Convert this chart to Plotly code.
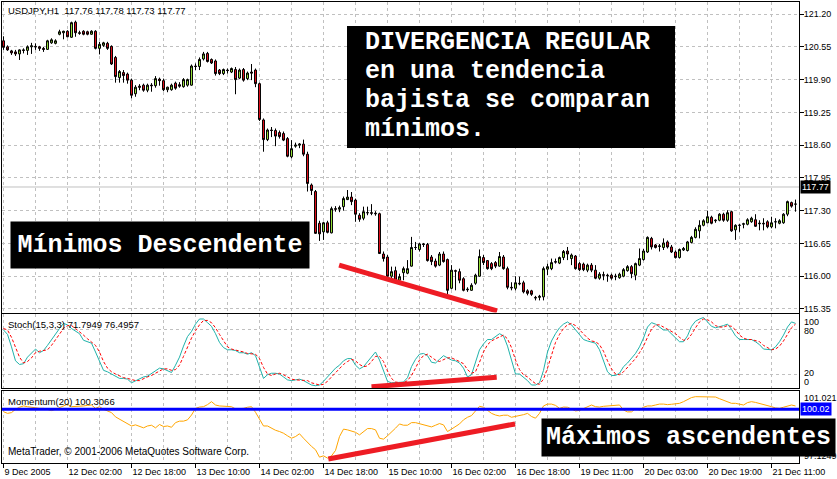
import plotly.graph_objects as go
from plotly.subplots import make_subplots

# USDJPY H1 candles (bar index 0 = 9 Dec 2005 10:00)
opens = [
    120.67, 120.55, 120.47, 120.45, 120.41, 120.49, 120.48, 120.55, 120.56, 120.55,
    120.52, 120.50, 120.63, 120.62, 120.80, 120.83, 120.86, 120.74, 121.04, 120.83,
    120.86, 120.85, 120.80, 120.86, 120.52, 120.58, 120.62, 120.56, 120.34, 119.94,
    120.04, 120.01, 119.89, 119.62, 119.77, 119.79, 119.69, 119.79, 119.78, 119.91,
    119.88, 119.70, 119.70, 119.83, 119.80, 119.76, 119.79, 119.79, 120.17, 120.16,
    120.31, 120.42, 120.30, 120.27, 120.09, 120.02, 120.09, 120.05, 120.10, 119.93,
    120.10, 119.92, 120.05, 120.09, 119.82, 119.10, 118.71, 118.90, 118.89, 118.85,
    118.83, 118.73, 118.37, 118.58, 118.60, 118.62, 118.42, 117.81, 117.68, 117.05,
    116.88, 117.06, 116.86, 117.34, 117.33, 117.38, 117.52, 117.57, 117.51, 117.21,
    117.15, 117.26, 117.26, 117.25, 117.24, 116.44, 116.38, 116.00, 116.11, 115.92,
    116.07, 116.06, 116.20, 116.57, 116.53, 116.64, 116.63, 116.38, 116.30, 116.22,
    116.44, 116.33, 115.76, 116.11, 116.09, 115.95, 115.73, 115.72, 115.86, 116.00,
    116.37, 116.31, 116.25, 116.27, 116.20, 116.38, 116.15, 115.78, 115.76, 115.86,
    115.87, 115.71, 115.71, 115.58, 115.58, 115.59, 116.14, 116.15, 116.29, 116.26,
    116.37, 116.50, 116.35, 116.40, 116.25, 116.24, 116.12, 116.22, 116.12, 115.96,
    116.03, 116.02, 116.02, 115.99, 115.97, 116.00, 116.11, 116.19, 116.02, 116.22,
    116.33, 116.48, 116.75, 116.62, 116.59, 116.57, 116.68, 116.58, 116.48, 116.37,
    116.52, 116.51, 116.67, 116.77, 116.90, 117.01, 117.06, 117.17, 117.10, 117.11,
    117.23, 117.11, 117.28, 116.92, 117.01, 117.03, 117.03, 117.08, 117.12, 117.04,
    117.05, 117.08, 116.98, 117.08, 117.05, 117.06, 117.23, 117.46, 117.43,
]
highs = [
    120.76, 120.58, 120.49, 120.49, 120.50, 120.52, 120.58, 120.63, 120.62, 120.57,
    120.55, 120.69, 120.72, 120.70, 120.89, 120.87, 120.88, 121.05, 121.07, 120.87,
    120.88, 120.87, 120.88, 120.88, 120.65, 120.65, 120.65, 120.58, 120.37, 120.09,
    120.09, 120.04, 119.92, 119.79, 119.81, 119.82, 119.82, 119.83, 119.97, 119.94,
    119.92, 119.76, 119.82, 119.86, 119.85, 119.93, 119.92, 120.20, 120.22, 120.34,
    120.45, 120.45, 120.32, 120.30, 120.11, 120.12, 120.12, 120.14, 120.15, 120.12,
    120.13, 120.06, 120.21, 120.12, 119.84, 119.13, 118.93, 118.96, 118.93, 118.89,
    118.87, 118.76, 118.70, 118.65, 118.64, 118.71, 118.47, 117.84, 117.71, 117.10,
    117.08, 117.10, 117.38, 117.39, 117.40, 117.58, 117.71, 117.67, 117.54, 117.25,
    117.38, 117.38, 117.43, 117.29, 117.26, 116.49, 116.42, 116.19, 116.19, 116.05,
    116.19, 116.32, 116.78, 116.68, 116.66, 116.66, 116.66, 116.42, 116.35, 116.48,
    116.49, 116.35, 116.22, 116.13, 116.15, 115.98, 115.78, 115.86, 116.05, 116.53,
    116.42, 116.32, 116.28, 116.30, 116.48, 116.42, 116.19, 115.88, 116.00, 115.99,
    115.91, 115.74, 115.73, 115.61, 115.63, 116.19, 116.25, 116.35, 116.35, 116.39,
    116.52, 116.58, 116.45, 116.42, 116.28, 116.27, 116.25, 116.26, 116.22, 116.08,
    116.09, 116.05, 116.05, 116.05, 116.07, 116.16, 116.22, 116.22, 116.27, 116.55,
    116.54, 116.79, 116.78, 116.64, 116.64, 116.75, 116.71, 116.62, 116.51, 116.55,
    116.58, 116.70, 116.80, 116.97, 117.11, 117.13, 117.30, 117.20, 117.13, 117.25,
    117.26, 117.31, 117.30, 117.03, 117.04, 117.06, 117.15, 117.18, 117.23, 117.11,
    117.15, 117.11, 117.18, 117.15, 117.13, 117.25, 117.50, 117.48, 117.52,
]
lows = [
    120.49, 120.47, 120.39, 120.37, 120.29, 120.42, 120.39, 120.41, 120.49, 120.47,
    120.45, 120.49, 120.61, 120.60, 120.78, 120.70, 120.74, 120.73, 120.75, 120.79,
    120.78, 120.78, 120.79, 120.50, 120.40, 120.55, 120.49, 120.19, 119.84, 119.84,
    119.84, 119.82, 119.53, 119.56, 119.69, 119.66, 119.65, 119.66, 119.74, 119.78,
    119.67, 119.65, 119.68, 119.70, 119.74, 119.74, 119.76, 119.78, 120.09, 120.09,
    120.28, 120.24, 120.21, 119.98, 119.99, 119.99, 120.02, 120.03, 119.61, 119.91,
    119.86, 119.89, 119.89, 119.75, 119.08, 118.47, 118.68, 118.76, 118.58, 118.73,
    118.68, 118.36, 118.34, 118.55, 118.54, 118.38, 117.68, 117.61, 116.84, 116.70,
    116.72, 116.85, 116.85, 117.28, 117.27, 117.30, 117.51, 117.41, 117.08, 117.08,
    117.11, 117.21, 117.21, 117.20, 116.44, 116.29, 115.92, 115.96, 115.91, 115.89,
    115.92, 116.04, 116.19, 116.52, 116.49, 116.58, 116.29, 116.22, 116.17, 116.20,
    116.27, 115.63, 115.74, 115.72, 115.86, 115.70, 115.69, 115.71, 115.83, 115.99,
    116.22, 116.13, 116.12, 116.16, 116.19, 116.13, 115.74, 115.72, 115.72, 115.82,
    115.66, 115.62, 115.61, 115.52, 115.52, 115.52, 116.02, 116.12, 116.25, 116.24,
    116.32, 116.32, 116.22, 116.13, 116.10, 116.10, 116.08, 116.08, 115.94, 115.93,
    115.92, 115.89, 115.93, 115.92, 115.95, 115.98, 116.09, 115.96, 115.92, 116.20,
    116.31, 116.46, 116.53, 116.55, 116.49, 116.52, 116.55, 116.46, 116.35, 116.35,
    116.50, 116.49, 116.65, 116.75, 116.75, 116.99, 117.05, 117.03, 117.06, 117.09,
    117.08, 117.08, 116.88, 116.72, 116.88, 116.95, 117.01, 117.06, 116.98, 116.91,
    116.91, 116.95, 116.95, 116.95, 117.03, 117.04, 117.19, 117.36, 117.28,
]
closes = [
    120.54, 120.49, 120.43, 120.41, 120.49, 120.48, 120.55, 120.57, 120.55, 120.52,
    120.50, 120.67, 120.69, 120.67, 120.85, 120.86, 120.75, 121.03, 120.83, 120.82,
    120.80, 120.80, 120.86, 120.52, 120.60, 120.63, 120.52, 120.21, 119.96, 120.06,
    119.98, 119.89, 119.59, 119.75, 119.75, 119.69, 119.79, 119.78, 119.92, 119.88,
    119.70, 119.75, 119.79, 119.73, 119.77, 119.90, 119.90, 120.17, 120.16, 120.30,
    120.41, 120.26, 120.23, 120.02, 120.02, 120.10, 120.08, 120.12, 119.90, 120.09,
    119.89, 120.03, 120.03, 119.82, 119.11, 118.71, 118.90, 118.89, 118.78, 118.77,
    118.70, 118.38, 118.53, 118.60, 118.62, 118.42, 117.84, 117.70, 116.85, 116.84,
    117.06, 116.87, 117.34, 117.33, 117.36, 117.54, 117.57, 117.48, 117.23, 117.13,
    117.28, 117.26, 117.25, 117.24, 116.45, 116.35, 116.00, 116.09, 115.92, 115.99,
    116.15, 116.15, 116.57, 116.57, 116.64, 116.63, 116.31, 116.29, 116.20, 116.44,
    116.29, 115.72, 116.12, 116.10, 115.92, 115.72, 115.74, 115.82, 116.02, 116.39,
    116.27, 116.15, 116.15, 116.20, 116.39, 116.15, 115.78, 115.77, 115.87, 115.85,
    115.69, 115.66, 115.64, 115.57, 115.60, 116.15, 116.19, 116.27, 116.28, 116.37,
    116.49, 116.44, 116.42, 116.15, 116.13, 116.13, 116.22, 116.12, 115.96, 116.04,
    116.02, 116.01, 115.96, 116.00, 116.04, 116.13, 116.19, 116.05, 116.25, 116.35,
    116.50, 116.77, 116.58, 116.57, 116.60, 116.66, 116.58, 116.48, 116.37, 116.53,
    116.55, 116.68, 116.77, 116.93, 117.01, 117.10, 117.18, 117.05, 117.11, 117.23,
    117.11, 117.26, 116.90, 117.01, 117.01, 117.04, 117.12, 117.15, 116.99, 117.05,
    117.04, 116.98, 117.06, 117.08, 117.10, 117.23, 117.48, 117.39, 117.43,
]

# Stochastic(15,3,3): main (teal) and signal (red dashed)
stoch_main = [
    80, 74, 57, 38, 33, 34, 43, 49, 54, 49, 52, 59, 67, 74, 82, 89, 87, 82, 78, 75,
    66, 64, 62, 50, 37, 25, 23, 20, 16, 14, 14, 13, 8, 11, 14, 16, 17, 21, 25, 28,
    27, 25, 22, 32, 43, 58, 71, 78, 88, 95, 95, 90, 85, 75, 63, 56, 53, 53, 52, 49,
    49, 47, 49, 45, 28, 14, 19, 21, 21, 20, 16, 12, 11, 12, 13, 11, 8, 5, 4, 5,
    10, 16, 22, 28, 32, 38, 41, 41, 32, 27, 30, 37, 44, 50, 39, 23, 10, 8, 8, 8,
    9, 15, 30, 40, 47, 48, 45, 36, 35, 40, 45, 42, 39, 38, 35, 28, 16, 19, 35, 53,
    61, 67, 67, 71, 75, 72, 58, 39, 20, 20, 16, 11, 5, 5, 8, 25, 50, 65, 75, 83,
    88, 91, 87, 80, 74, 67, 65, 64, 62, 53, 39, 23, 18, 18, 21, 30, 35, 41, 48, 57,
    69, 84, 90, 88, 84, 80, 80, 75, 70, 64, 64, 72, 85, 92, 95, 97, 91, 85, 83, 84,
    86, 88, 81, 72, 67, 67, 67, 67, 64, 60, 54, 53, 53, 57, 64, 73, 84, 91, 89,
]
stoch_signal = [
    82, 80, 70, 56, 43, 35, 37, 42, 49, 51, 52, 53, 59, 67, 74, 82, 86, 86, 82, 78,
    73, 68, 64, 59, 50, 37, 28, 23, 20, 17, 15, 14, 12, 11, 11, 14, 16, 18, 21, 25,
    27, 27, 25, 26, 32, 44, 57, 69, 79, 87, 93, 93, 90, 83, 74, 65, 57, 54, 53, 51,
    50, 48, 48, 47, 41, 29, 20, 18, 20, 21, 19, 16, 13, 12, 12, 12, 11, 8, 6, 5,
    6, 10, 16, 22, 27, 33, 37, 40, 38, 33, 30, 31, 37, 44, 44, 37, 24, 14, 9, 8,
    8, 11, 18, 28, 39, 45, 47, 43, 39, 37, 40, 42, 42, 40, 37, 34, 26, 21, 23, 36,
    50, 60, 65, 68, 71, 73, 68, 56, 39, 26, 19, 16, 11, 7, 6, 13, 28, 47, 63, 74,
    82, 87, 89, 86, 80, 74, 69, 65, 64, 60, 51, 38, 27, 20, 19, 23, 29, 35, 41, 49,
    58, 70, 81, 87, 87, 84, 81, 78, 75, 70, 66, 67, 74, 83, 91, 95, 94, 91, 86, 84,
    84, 86, 85, 80, 73, 69, 67, 67, 66, 64, 59, 56, 53, 54, 58, 65, 74, 83, 88,
]

# Momentum(20)
momentum = [
    99.89, 99.80, 99.84, 100.02, 100.13, 100.20, 100.16, 100.13, 100.07, 100.07,
    100.07, 100.02, 99.95, 100.02, 100.11, 100.20, 100.29, 100.16, 100.16, 100.18,
    100.20, 100.23, 100.25, 100.07, 100.16, 100.02, 99.93, 99.84, 99.61, 99.48,
    99.39, 99.25, 99.12, 99.18, 99.12, 99.02, 99.12, 99.16, 99.02, 99.20,
    99.09, 99.12, 99.05, 99.30, 99.38, 99.38, 99.45, 99.71, 100.07, 100.14,
    100.16, 100.27, 100.43, 100.25, 100.20, 100.20, 100.20, 100.16, 100.04, 100.04,
    100.07, 100.13, 100.16, 99.86, 99.48, 99.12, 99.12, 99.00, 98.89, 98.82,
    98.73, 98.59, 98.46, 98.55, 98.70, 98.46, 98.23, 98.02, 97.84, 97.44,
    97.51, 97.39, 97.51, 97.80, 98.55, 98.95, 98.91, 98.86, 98.78, 98.64,
    98.82, 98.98, 98.98, 98.91, 98.46, 98.41, 98.59, 98.77, 99.00, 99.23,
    99.16, 99.16, 99.30, 99.30, 99.25, 99.20, 99.12, 99.07, 99.16, 99.25,
    99.18, 98.82, 98.95, 99.09, 99.23, 99.45, 99.59, 99.68, 99.93, 100.18,
    100.13, 99.95, 99.80, 99.71, 99.66, 99.70, 99.70, 99.59, 99.63, 99.68,
    99.73, 99.80, 99.63, 99.54, 99.80, 100.20, 100.30, 100.30, 100.23, 100.07,
    100.14, 100.13, 100.05, 99.93, 99.96, 100.05, 100.16, 100.25, 100.16, 100.14,
    100.18, 100.20, 100.23, 100.25, 100.25, 99.98, 99.88, 99.88, 100.05, 99.98,
    100.13, 100.20, 100.20, 100.25, 100.30, 100.30, 100.27, 100.29, 100.32, 100.34,
    100.43, 100.54, 100.65, 100.70, 100.70, 100.70, 100.70, 100.70, 100.68, 100.59,
    100.50, 100.41, 100.34, 100.34, 100.30, 100.25, 100.38, 100.43, 100.39, 100.34,
    100.30, 100.23, 100.16, 100.09, 100.07, 100.13, 100.20, 100.25, 100.20,
]

bars = list(range(len(closes)))

tick_bars = [0, 16, 32, 48, 64, 80, 96, 112, 128, 144, 160, 176, 192]
tick_text = ["9 Dec 2005", "12 Dec 02:00", "12 Dec 18:00", "13 Dec 10:00",
             "14 Dec 02:00", "14 Dec 18:00", "15 Dec 10:00", "16 Dec 02:00",
             "16 Dec 18:00", "19 Dec 11:00", "20 Dec 03:00", "20 Dec 19:00",
             "21 Dec 11:00"]

price_ticks = [115.35, 116.00, 116.65, 117.30, 117.95, 118.60, 119.25, 119.90, 120.55, 121.20]
bid_price = 117.77
momentum_level = 100.02
momentum_min, momentum_max = 97.1249, 101.021

# hand-drawn divergence lines (bar index, value)
price_line_x, price_line_y = [83.9, 123.4], [116.22, 115.31]
stoch_line_x, stoch_line_y = [92.0, 123.3], [2.7, 15.5]
mom_line_x, mom_line_y = [81.2, 127.9], [97.34, 99.23]

# pixel helpers for the 837x479 canvas
W, H = 837, 479
L, R, T, B = 2, 38, 2, 16
def px(x):
    return (x - L) / (W - L - R)
def py(y):
    return (H - B - y) / (H - T - B)

fig = make_subplots(rows=3, cols=1, shared_xaxes=True, vertical_spacing=0.004)

fig.add_trace(go.Candlestick(
    x=bars, open=opens, high=highs, low=lows, close=closes,
    increasing=dict(fillcolor="#9BE83A", line=dict(color="black", width=1)),
    decreasing=dict(fillcolor="#E8101C", line=dict(color="black", width=1)),
    whiskerwidth=0, showlegend=False, hoverinfo="skip"), row=1, col=1)

fig.add_trace(go.Scatter(x=bars, y=stoch_main, mode="lines",
                         line=dict(color="#20B2AA", width=1), showlegend=False), row=2, col=1)
fig.add_trace(go.Scatter(x=bars, y=stoch_signal, mode="lines",
                         line=dict(color="#FF0000", width=1, dash="3px,2px"), showlegend=False), row=2, col=1)
fig.add_trace(go.Scatter(x=bars, y=momentum, mode="lines",
                         line=dict(color="#FFA500", width=1), showlegend=False), row=3, col=1)

red = "#EE1C24"
fig.add_trace(go.Scatter(x=price_line_x, y=price_line_y, mode="lines",
                         line=dict(color=red, width=5), showlegend=False), row=1, col=1)
fig.add_trace(go.Scatter(x=stoch_line_x, y=stoch_line_y, mode="lines",
                         line=dict(color=red, width=5), showlegend=False), row=2, col=1)
fig.add_trace(go.Scatter(x=mom_line_x, y=mom_line_y, mode="lines",
                         line=dict(color=red, width=5), showlegend=False), row=3, col=1)

fig.add_hline(y=bid_price, line=dict(color="#C0C0C0", width=1), layer="below", row=1, col=1)
fig.add_hline(y=momentum_level, line=dict(color="#0000FF", width=3), row=3, col=1)

small = dict(family="Liberation Sans", size=9, color="black")
head = dict(family="Liberation Sans", size=9.5, color="black")
grid = dict(showgrid=True, gridcolor="#C0C0C0", griddash="3px,3px", gridwidth=1)

fig.update_xaxes(range=[-0.375, 198.875], showline=True, mirror=True, linecolor="black",
                 linewidth=1, rangeslider_visible=False, tickvals=tick_bars, ticks="",
                 showticklabels=False, zeroline=False, automargin=False,
                 minor=dict(dtick=8, tick0=0, showgrid=True, gridcolor="#C0C0C0",
                            griddash="3px,3px", ticks=""), **grid)
fig.update_xaxes(showticklabels=True, ticktext=tick_text, ticks="outside", ticklen=4,
                 tickcolor="black", ticklabelposition="outside right", tickfont=small,
                 tickangle=0, row=3, col=1)

fig.update_yaxes(side="right", showline=True, mirror=True, linecolor="black", linewidth=1,
                 zeroline=False, tickfont=small, automargin=False)
fig.update_yaxes(range=[115.28, 121.44], tickvals=price_ticks, tickformat=".2f",
                 ticks="outside", ticklen=4, tickcolor="black", ticklabelstandoff=-2,
                 row=1, col=1, **grid)
fig.update_yaxes(range=[0.5, 101.8], tickvals=[20, 80], showticklabels=False,
                 ticks="", row=2, col=1, **grid)
fig.update_yaxes(range=[momentum_min, momentum_max], showticklabels=False, showgrid=False,
                 ticks="", row=3, col=1)

fig.update_layout(
    width=W, height=H, margin=dict(l=L, r=R, t=T, b=B, autoexpand=False),
    paper_bgcolor="white", plot_bgcolor="white", showlegend=False,
    yaxis=dict(domain=[py(312.5), 1.0]),
    yaxis2=dict(domain=[py(388.3), py(314)]),
    yaxis3=dict(domain=[0.0, py(390.7)]),
)

def label(text, x, y, font=small, **kw):
    fig.add_annotation(text=text, x=px(x), y=py(y), xref="paper", yref="paper",
                       xanchor="left", yanchor="middle", showarrow=False, font=font, **kw)

label("USDJPY,H1  117.76 117.78 117.73 117.77", 6, 11, font=head)
label("Stoch(15,3,3) 71.7949 76.4957", 6, 324, font=head)
label("Momentum(20) 100.3066", 6, 401, font=head)
label("MetaTrader, © 2001-2006 MetaQuotes Software Corp.", 6, 451,
      font=dict(family="Liberation Sans", size=10, color="black"))

# right-side indicator scale labels
label("100", 802, 321.5)
label("80", 802, 330.5)
label("20", 802, 373)
label("0", 802, 382)
label("101.021", 802, 398.3)
label("97.1249", 802, 456)
label(f"{bid_price:.2f}", 800, 187, font=dict(family="Liberation Sans", size=9, color="white"),
      bgcolor="black", borderpad=1)
label(f"{momentum_level:.2f}", 800, 409.3, font=dict(family="Liberation Sans", size=9, color="white"),
      bgcolor="#0000FF", borderpad=1)

# black caption boxes
mono = dict(family="Liberation Mono", size=25, color="white", weight="bold")
fig.add_shape(type="rect", xref="paper", yref="paper", x0=px(347), x1=px(675),
              y0=py(148), y1=py(26), fillcolor="black", line=dict(width=0), layer="above")
for txt, yc in zip(["DIVERGENCIA REGULAR", "en una tendencia", "bajista se comparan", "mínimos."],
                   [42, 71.5, 100.5, 129.5]):
    label(txt, 363, yc, font=mono)

for txt, x0, x1, y0, y1 in [("Mínimos Descendente", 10, 308, 221, 267),
                            ("Máximos ascendentes", 541, 834, 418, 455)]:
    fig.add_annotation(text=txt, x=px(x0), y=py(y0), xref="paper", yref="paper",
                       xanchor="left", yanchor="top", showarrow=False, font=mono,
                       bgcolor="black", borderpad=0, width=x1 - x0, height=y1 - y0,
                       align="center", valign="middle")

# the page's default 8px body margin would shift the chart off the window
fig.write_html("out.html", config={"displayModeBar": False},
               post_script="document.body.style.margin='0';")
